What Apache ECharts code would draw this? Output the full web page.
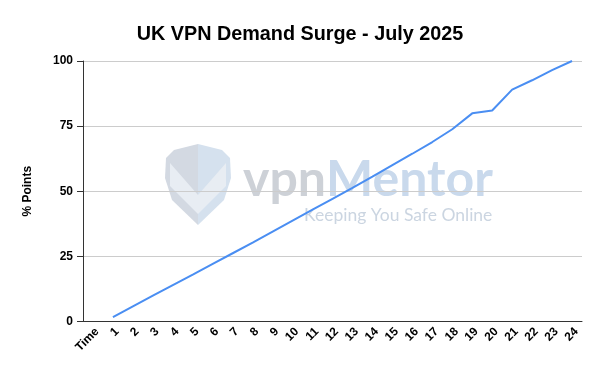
<!DOCTYPE html>
<html>
<head>
<meta charset="utf-8">
<script src="https://cdn.jsdelivr.net/npm/echarts@6/dist/echarts.min.js"></script>
<style>html,body{margin:0;padding:0;background:#fff;}#c{width:600px;height:371px;}</style>
</head>
<body>
<div id="c"></div>
<script>
const categories = ['Time','1','2','3','4','5','6','7','8','9','10','11','12','13','14','15','16','17','18','19','20','21','22','23','24'];
const demand = [null,1.7,5.8,9.9,14.0,18.0,22.1,26.2,30.3,34.5,38.7,42.9,47.1,51.3,55.6,60.0,64.4,68.9,73.8,79.9,81.0,89.0,92.6,96.5,100];
const yTicks = [0,25,50,75,100];

const chart = echarts.init(document.getElementById('c'), null, {renderer:'canvas'});
const F = '"Liberation Sans", Arial, sans-serif';
const WF = 'Lato, "Open Sans", sans-serif';
chart.setOption({
  animation:false,
  backgroundColor:'#ffffff',
  title:{text:'UK VPN Demand Surge - July 2025',left:'center',top:20,
    textStyle:{fontFamily:F,fontSize:19.8,fontWeight:'bold',color:'#000'}},
  grid:{left:83,right:18,top:61,bottom:49.5,containLabel:false},
  graphic:[
    {type:'polygon',z:-1,shape:{points:[[198,144],[174,150],[166,158],[165,178],[172,200],[198,225]]},style:{fill:'#d3d9e2'}},
    {type:'polygon',z:-1,shape:{points:[[198,144],[222,150],[230,158],[231,178],[224,200],[198,225]]},style:{fill:'#d5e1ee'}},
    {type:'polygon',z:-1,shape:{points:[[170,163],[198,195],[226,163],[226,186],[198,214],[170,186]]},style:{fill:'#e8edf3'}},
    {type:'text',z:-1,style:{text:'{a|vpn}{b|Mentor}',x:243,y:180,verticalAlign:'middle',
      rich:{a:{fontFamily:WF,fontSize:50,fontWeight:'bold',fill:'#cdd1d7',color:'#cdd1d7'},
            b:{fontFamily:WF,fontSize:50,fontWeight:'bold',fill:'#c9d9ec',color:'#c9d9ec'}}}},
    {type:'text',z:-1,style:{text:'Keeping You Safe Online',x:304,y:215,font:'17.5px Lato, "Open Sans", sans-serif',fill:'#cbd5e1',verticalAlign:'middle'}}
  ],
  xAxis:{type:'category',data:categories,boundaryGap:true,
    axisLine:{show:true,lineStyle:{color:'#333',width:1}},
    axisTick:{show:false},
    axisLabel:{rotate:45,interval:0,margin:4,verticalAlign:'top',color:'#000',fontFamily:F,fontSize:12,fontWeight:'bold'}},
  yAxis:{type:'value',min:0,max:100,interval:25,
    name:'% Points',nameLocation:'middle',nameGap:49,
    nameTextStyle:{fontFamily:F,fontSize:12,fontWeight:'bold',color:'#000'},
    axisLine:{show:true,lineStyle:{color:'#333',width:1}},
    axisTick:{show:true,length:6,lineStyle:{color:'#333'}},
    axisLabel:{margin:10,color:'#000',fontFamily:F,fontSize:12,fontWeight:'bold',
      formatter:v=>yTicks.includes(v)?String(v):''},
    splitLine:{show:true,lineStyle:{color:'#cccccc',width:1}}},
  series:[{type:'line',data:demand,showSymbol:false,symbol:'none',connectNulls:false,
    lineStyle:{color:'#4a8ef2',width:2},z:3}]
});
</script>
</body>
</html>
